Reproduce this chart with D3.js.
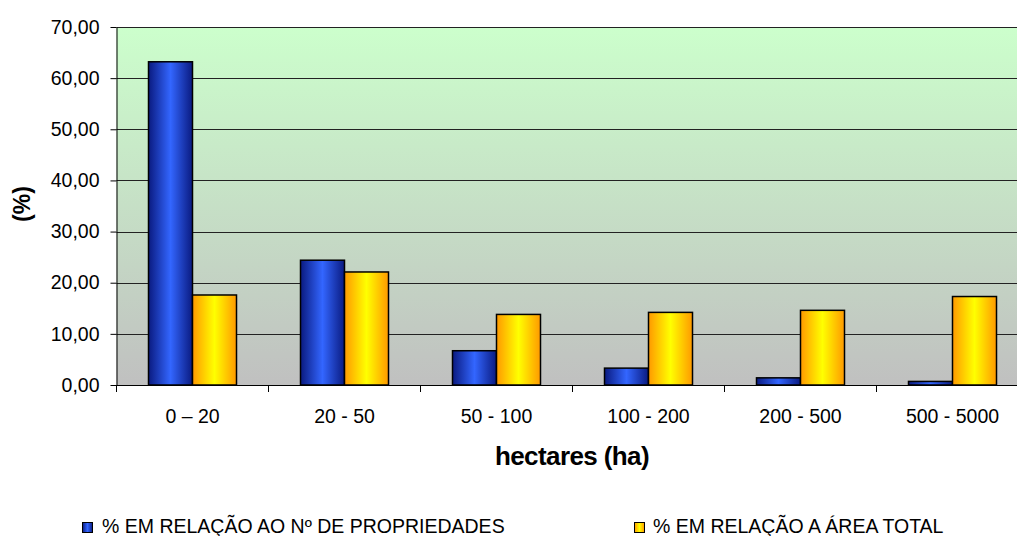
<!DOCTYPE html>
<html><head><meta charset="utf-8">
<script src="https://cdn.jsdelivr.net/npm/d3@7"></script>
<style>body{margin:0;background:#fff;} svg{display:block;font-family:"Liberation Sans",Arial,sans-serif;}</style>
</head><body>
<svg id="chart" width="1017" height="536"></svg>
<script>
const categories = ["0 – 20","20 - 50","50 - 100","100 - 200","200 - 500","500 - 5000"];
const seriesNames = ["% EM RELAÇÃO AO Nº DE PROPRIEDADES","% EM RELAÇÃO A ÁREA TOTAL"];
const propriedades = [63.2, 24.4, 6.7, 3.3, 1.4, 0.7];
const areaTotal = [17.6, 22.1, 13.8, 14.2, 14.6, 17.3];
const yTicks = [0,10,20,30,40,50,60,70];

const svg = d3.select("#chart");
const pLeft = 116.5, pTop = 27, pBottom = 385, pRight = 116.5 + 6*152;
const defs = svg.append("defs");
const bg = defs.append("linearGradient").attr("id","bg").attr("x1",0).attr("x2",0).attr("y1",0).attr("y2",1);
bg.append("stop").attr("offset","0%").attr("stop-color","#ccffcc");
bg.append("stop").attr("offset","100%").attr("stop-color","#c0c0c0");
function hgrad(id, edge, mid){
  const g = defs.append("linearGradient").attr("id",id).attr("x1",0).attr("x2",1).attr("y1",0).attr("y2",0);
  g.append("stop").attr("offset","0%").attr("stop-color",edge);
  g.append("stop").attr("offset","50%").attr("stop-color",mid);
  g.append("stop").attr("offset","100%").attr("stop-color",edge);
}
hgrad("gBlue","#0a1a80","#3366ff");
hgrad("gYellow","#ff9900","#ffff00");

const x = d3.scaleBand().domain(categories).range([pLeft,pRight]).paddingInner(0).paddingOuter(0);
const y = d3.scaleLinear().domain([0,70]).range([pBottom,pTop]);
const bw = 44;

svg.append("rect").attr("x",pLeft).attr("y",pTop).attr("width",pRight-pLeft).attr("height",pBottom-pTop).attr("fill","url(#bg)");

svg.append("g").selectAll("line").data(yTicks.filter(d=>d>0)).join("line")
  .attr("x1",pLeft).attr("x2",pRight).attr("y1",d=>Math.round(y(d))+0.5).attr("y2",d=>Math.round(y(d))+0.5)
  .attr("stroke","#222").attr("stroke-width",1);

const series = [{vals:propriedades, fill:"url(#gBlue)", off:-bw},{vals:areaTotal, fill:"url(#gYellow)", off:0}];
series.forEach(s=>{
  svg.append("g").selectAll("rect").data(categories).join("rect")
    .attr("x",(c)=>x(c)+x.bandwidth()/2+s.off)
    .attr("y",(c,i)=>y(s.vals[i]))
    .attr("width",bw)
    .attr("height",(c,i)=>pBottom-y(s.vals[i]))
    .attr("fill",s.fill).attr("stroke","#000").attr("stroke-width",1.5);
});

// y axis
const yAxis = d3.axisLeft(y).tickValues(yTicks).tickSize(6).tickSizeOuter(0)
  .tickFormat(d=>d3.format(".2f")(d).replace(".",","));
const gy = svg.append("g").attr("transform",`translate(${pLeft},0)`).call(yAxis);
gy.selectAll("text").attr("font-size",19.5).attr("fill","#000").attr("x",-17).attr("font-family","Liberation Sans, Arial, sans-serif");
gy.selectAll("line,path").attr("stroke","#000");

// x axis
const xAxis = d3.axisBottom(x).tickSize(0).tickSizeOuter(0);
const gx = svg.append("g").attr("transform",`translate(0,${pBottom})`).call(xAxis);
gx.select("path").attr("stroke","#000");
gx.selectAll("text").attr("font-size",19.5).attr("fill","#000").attr("y",38).attr("dy",0).attr("font-family","Liberation Sans, Arial, sans-serif");
svg.append("g").selectAll("line").data(categories).join("line")
  .attr("x1",c=>x(c)).attr("x2",c=>x(c)).attr("y1",pBottom).attr("y2",pBottom+7).attr("stroke","#000");

svg.append("text").attr("x",572).attr("y",465).attr("text-anchor","middle").attr("font-size",26).attr("letter-spacing","-0.6px").attr("font-weight","bold").text("hectares (ha)");
svg.append("text").attr("transform","translate(30,204) rotate(-90)").attr("text-anchor","middle").attr("font-size",23).attr("font-weight","bold").text("(%)");

// legend
const leg = [{x:82, tx:102, fill:"url(#gBlue)", name:seriesNames[0]},{x:634, tx:653, fill:"url(#gYellow)", name:seriesNames[1]}];
leg.forEach(l=>{
  svg.append("rect").attr("x",l.x+0.5).attr("y",522.5).attr("width",10).attr("height",10).attr("fill",l.fill).attr("stroke","#000").attr("stroke-width",1);
  svg.append("text").attr("x",l.tx).attr("y",533).attr("font-size",19.5).text(l.name);
});
</script>
</body></html>
